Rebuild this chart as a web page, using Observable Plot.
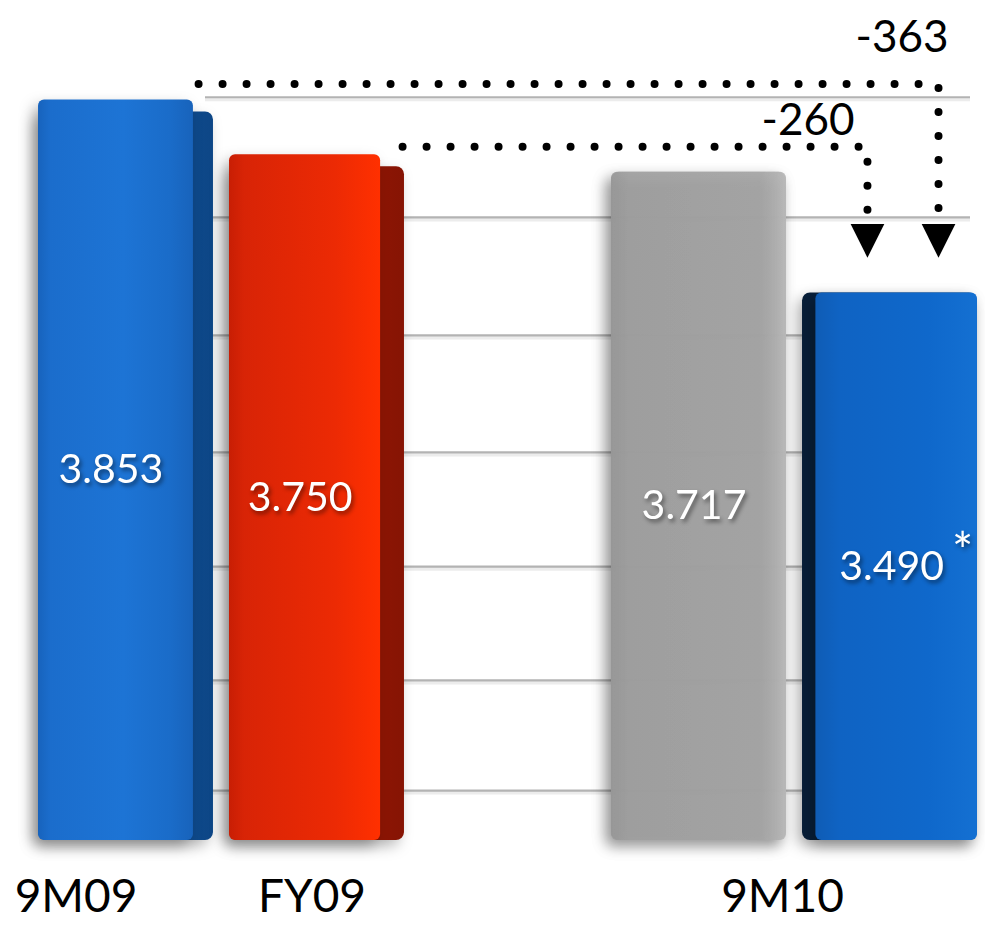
<!DOCTYPE html>
<html>
<head>
<meta charset="utf-8">
<script src="https://cdn.jsdelivr.net/npm/d3@7"></script>
<script src="https://cdn.jsdelivr.net/npm/@observablehq/plot@0.6"></script>
<style>
  html, body { margin: 0; padding: 0; background: #fff; }
  #chart svg { display: block; }
  #chart g[fill="white"] { filter: drop-shadow(2px 3px 2px rgba(0,0,0,0.45)); }
  #chart g[aria-label="rect"] { filter: drop-shadow(-5px 6px 7px rgba(0,0,0,0.28)); }
</style>
</head>
<body>
<div id="chart"></div>
<script>
// ---------- data ----------
const barIds     = ["9M09", "FY09", "9M10 budget", "9M10"];
const barValues  = [3.853, 3.750, 3.717, 3.490];
const barLabels  = ["3.853", "3.750", "3.717", "3.490"];
const barNotes   = ["", "", "", "*"];
const slotOrder  = ["9M09", "FY09", "", "9M10 budget", "9M10"];
const axisLabels = ["9M09", "FY09", "9M10"];
const axisGroups = [["9M09"], ["FY09"], ["9M10 budget", "9M10"]];
const deltaLabels = ["-363", "-260"];
const deltaFrom   = ["9M09", "FY09"];
const deltaTo     = ["9M10", "9M10"];
const gridValues  = [2.554, 2.761, 2.975, 3.190, 3.410, 3.632, 3.858];

// ---------- layout / style ----------
const W = 985, H = 937;
const marginBottom = 97, marginLeft = 30;
const yDomain = [2.46, 4.04];
const pxPerUnit = (H - marginBottom) / (yDomain[1] - yDomain[0]);
const up = px => px / pxPerUnit;
const base = yDomain[0];
const half = 0.458;
const barSide = [0.105, 0.125, 0, -0.07];          // 3D side face width (slot units, + right / - left)
const barSideDrop = [12, 12, 0, 0];                 // side face starts lower than the front (px)
const barFront = ["url(#gBlue)", "url(#gRed)", "url(#gGrey)", "url(#gBlue2)"];
const barSideFill = ["url(#gBlueSide)", "url(#gRedSide)", "url(#gGrey)", "url(#gBlueSide2)"];
const connectorStyle = [
  {xStart: 0.38,  lift: 16, xOff: 0.254,  labelDx: 10,  labelDy: -46},
  {xStart: 0.448, lift: 8,  xOff: -0.118, labelDx: -13, labelDy: -26}
];
const axisLabelDx = [-50, -5, -12];
const arrowCenterPx = 52, lineEndPx = 78;

const downTriangle = {
  draw(ctx, size) {
    const w = Math.sqrt(size);
    ctx.moveTo(-w / 2, -w / 2);
    ctx.lineTo(w / 2, -w / 2);
    ctx.lineTo(0, w / 2);
    ctx.closePath();
  }
};

const bars = barIds.map((id, i) => {
  const s = slotOrder.indexOf(id);
  const side = barSide[i];
  const fx1 = s - half + Math.max(0, -side);
  const fx2 = s + half - Math.max(0, side);
  return {id, value: barValues[i], label: barLabels[i], note: barNotes[i], s,
          x1: s - half, x2: s + half, fx1, fx2, fc: (fx1 + fx2) / 2,
          sideTop: barValues[i] - up(barSideDrop[i]),
          front: barFront[i], sideFill: barSideFill[i]};
});

const marks = [
  Plot.ruleY(gridValues, {stroke: "#ececec", strokeWidth: 4, insetLeft: 175, insetRight: 15, dy: 2}),
  Plot.ruleY(gridValues, {stroke: "#b3b3b3", strokeWidth: 2.2, insetLeft: 175, insetRight: 15}),
  Plot.rect(bars, {x1: "x1", x2: "x2", y1: () => base, y2: "sideTop", fill: "sideFill", rx: 8}),
  Plot.rect(bars, {x1: "fx1", x2: "fx2", y1: () => base, y2: "value", fill: "front", rx: 6}),
  Plot.text(bars, {x: "fc", y: d => (d.value + base) / 2, text: "label", fill: "white", fontSize: 41, dx: -5}),
  Plot.text(bars.filter(d => d.note), {x: "fc", y: d => (d.value + base) / 2, text: "note", fill: "white", fontSize: 50, dx: 66, dy: -14})
];

deltaLabels.forEach((lab, i) => {
  const from = bars.find(b => b.id === deltaFrom[i]);
  const to = bars.find(b => b.id === deltaTo[i]);
  const st = connectorStyle[i];
  const yLine = from.value + up(st.lift);
  const xEnd = to.s + st.xOff;
  const path = [
    {x: from.s + st.xStart, y: yLine},
    {x: xEnd, y: yLine},
    {x: xEnd, y: to.value + up(lineEndPx)}
  ];
  marks.push(Plot.line(path, {x: "x", y: "y", stroke: "black", strokeWidth: 8,
    strokeDasharray: "0 24", strokeLinecap: "round", strokeLinejoin: "round"}));
  marks.push(Plot.dot([{x: xEnd, y: to.value + up(arrowCenterPx)}], {x: "x", y: "y",
    symbol: downTriangle, r: 19, fill: "black", stroke: "none"}));
  marks.push(Plot.text([lab], {x: () => xEnd, y: () => yLine, text: d => d,
    textAnchor: "end", dx: st.labelDx, dy: st.labelDy, fontSize: 44, fill: "black"}));
});

axisLabels.forEach((lab, i) => {
  const xs = axisGroups[i].map(id => slotOrder.indexOf(id));
  marks.push(Plot.text([lab], {x: () => d3.mean(xs), text: d => d, frameAnchor: "bottom",
    dy: 71, dx: axisLabelDx[i], fontSize: 46, fill: "black"}));
});

const svg = Plot.plot({
  width: W, height: H,
  marginLeft, marginRight: 0, marginTop: 0, marginBottom,
  x: {type: "linear", domain: [-0.5, slotOrder.length - 0.5], axis: null},
  y: {domain: yDomain, axis: null},
  color: {type: "identity"},
  style: {fontFamily: "Lato, 'Open Sans', sans-serif", background: "white", overflow: "visible"},
  marks
});

const defs = d3.select(svg).insert("defs", ":first-child");
function grad(id, stops) {
  const g = defs.append("linearGradient").attr("id", id)
    .attr("x1", "0%").attr("y1", "0%").attr("x2", "100%").attr("y2", "0%");
  stops.forEach(([o, c, a]) => g.append("stop").attr("offset", o).attr("stop-color", c).attr("stop-opacity", a == null ? 1 : a));
}
grad("gBlue", [["0%", "#1763bd"], ["8%", "#1b6dcc"], ["55%", "#1d74d5"], ["85%", "#1a6cc9"], ["100%", "#1863bb"]]);
grad("gBlueSide", [["0%", "#1862b0"], ["100%", "#0d4686"]]);
grad("gRed", [["0%", "#c81e04"], ["10%", "#d82406"], ["70%", "#ec2a04"], ["100%", "#ff3000"]]);
grad("gRedSide", [["0%", "#b81d04"], ["100%", "#861404"]]);
grad("gGrey", [["0%", "#9a9a9a", 0.88], ["10%", "#a3a3a3", 0.84], ["85%", "#a8a8a8", 0.84], ["100%", "#b8b8b8", 0.88]]);
grad("gBlue2", [["0%", "#0f5cb5"], ["15%", "#0f63c3"], ["70%", "#0f68cb"], ["100%", "#1470d2"]]);
grad("gBlueSide2", [["0%", "#081e38"], ["100%", "#0c3a6c"]]);

document.getElementById("chart").appendChild(svg);
</script>
</body>
</html>
